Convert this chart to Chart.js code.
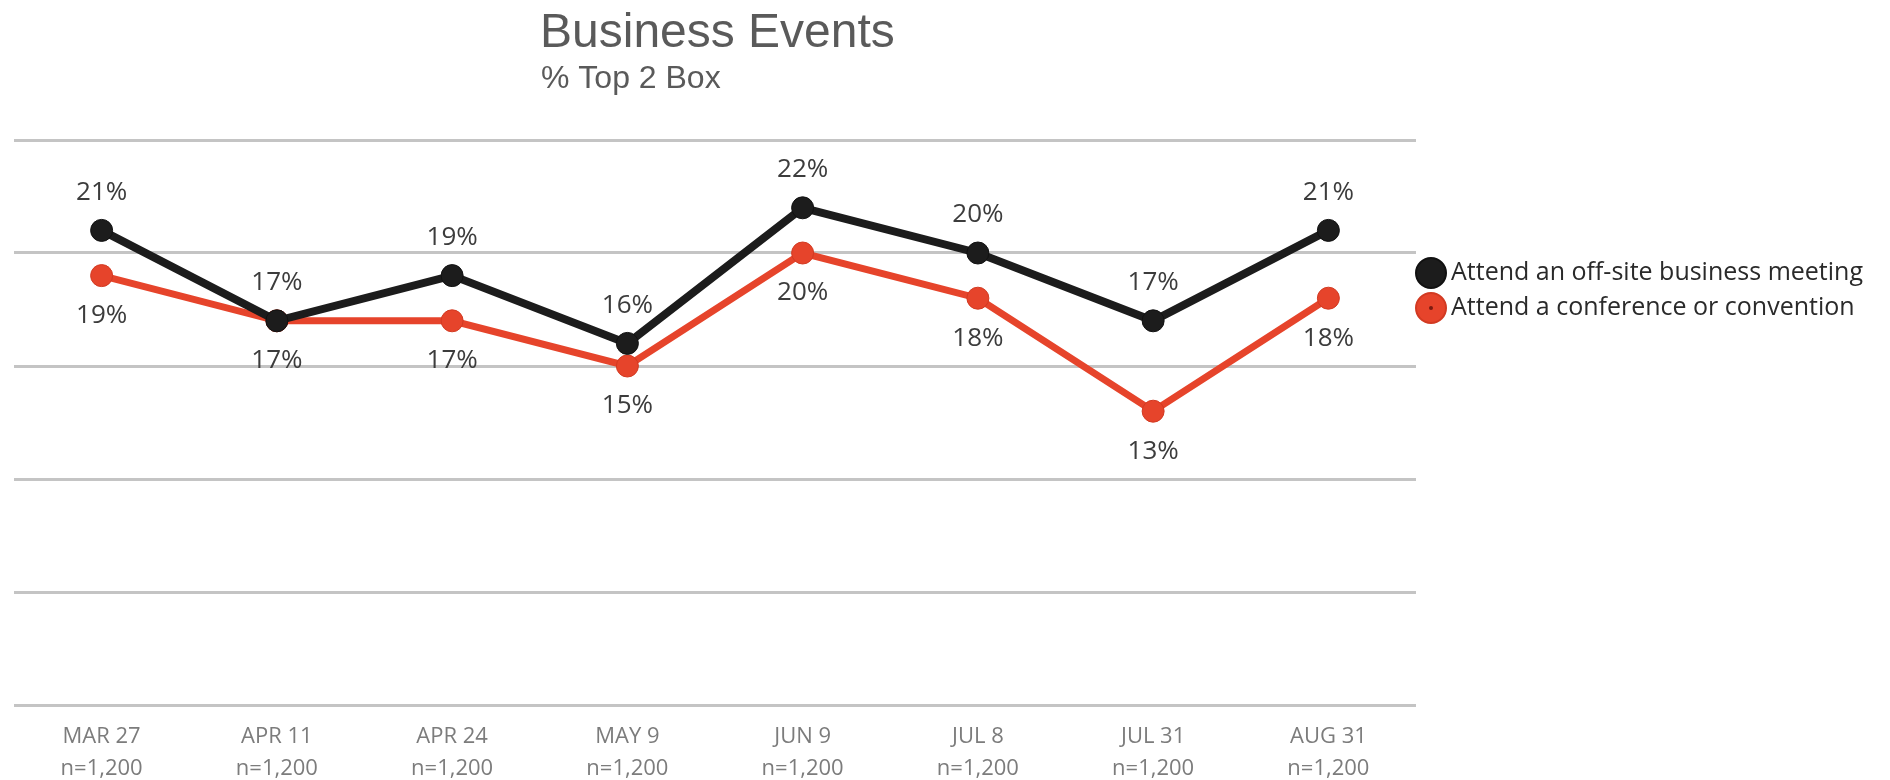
<!DOCTYPE html>
<html>
<head>
<meta charset="utf-8">
<title>Business Events</title>
<script src="https://cdn.jsdelivr.net/npm/chart.js@4.4.1/dist/chart.umd.min.js"></script>
<style>
  html, body { margin: 0; padding: 0; background: #fff; }
  #wrap { width: 1890px; height: 780px; }
</style>
</head>
<body>
<div id="wrap"><canvas id="eventsChart" width="1890" height="780"></canvas></div>
<script>
// survey waves
var waves = ['MAR 27', 'APR 11', 'APR 24', 'MAY 9', 'JUN 9', 'JUL 8', 'JUL 31', 'AUG 31'];
var sampleSizes = ['n=1,200', 'n=1,200', 'n=1,200', 'n=1,200', 'n=1,200', 'n=1,200', 'n=1,200', 'n=1,200'];

// % top 2 box
var offsiteMeeting = [21, 17, 19, 16, 22, 20, 17, 21];
var conference = [19, 17, 17, 15, 20, 18, 13, 18];

var seriesNames = ['Attend an off-site business meeting', 'Attend a conference or convention'];
var yTicks = [0, 5, 10, 15, 20, 25];

var BLACK = '#1c1c1c';
var RED = '#e6442b';

// heading drawn left-aligned over the plot
var headingPlugin = {
    id: 'heading',
    afterDraw: function (chart) {
        var ctx = chart.ctx;
        ctx.save();
        ctx.fillStyle = '#5a5a5a';
        ctx.textAlign = 'left';
        ctx.textBaseline = 'alphabetic';
        ctx.font = '48px "Liberation Sans", Arial, sans-serif';
        ctx.fillText('Business Events', 540, 47);
        ctx.font = '32px "Liberation Sans", Arial, sans-serif';
        ctx.fillText('% Top 2 Box', 541, 88);
        ctx.restore();
    }
};

// percent labels: first series above its points, second series below
var valueLabelPlugin = {
    id: 'valueLabels',
    afterDatasetsDraw: function (chart) {
        var ctx = chart.ctx;
        ctx.save();
        ctx.font = '26px "Open Sans", sans-serif';
        ctx.fillStyle = '#3c3c3c';
        ctx.textAlign = 'center';
        ctx.textBaseline = 'middle';
        chart.data.datasets.forEach(function (ds, i) {
            var meta = chart.getDatasetMeta(i);
            meta.data.forEach(function (pt, j) {
                var dy = i === 0 ? -38 : 40;
                ctx.fillText(ds.data[j] + '%', pt.x, pt.y + dy);
            });
        });
        ctx.restore();
    }
};

// legend to the right of the plot area
var sideLegendPlugin = {
    id: 'sideLegend',
    afterDraw: function (chart) {
        var ctx = chart.ctx;
        var x = chart.chartArea.right + 15;
        var rows = [273, 308];
        ctx.save();
        chart.data.datasets.forEach(function (ds, i) {
            var y = rows[i];
            ctx.beginPath();
            ctx.arc(x, y, 15, 0, Math.PI * 2);
            ctx.fillStyle = ds.pointBackgroundColor;
            ctx.fill();
            ctx.lineWidth = 2;
            ctx.strokeStyle = ds.pointBorderColor;
            ctx.stroke();
            if (i === 1) {
                ctx.beginPath();
                ctx.arc(x, y, 2, 0, Math.PI * 2);
                ctx.fillStyle = '#7a1a10';
                ctx.fill();
            }
            ctx.font = '25px "Open Sans", sans-serif';
            ctx.fillStyle = '#2a2a2a';
            ctx.textAlign = 'left';
            ctx.textBaseline = 'middle';
            ctx.fillText(ds.label, x + 20, y);
        });
        ctx.restore();
    }
};

new Chart(document.getElementById('eventsChart').getContext('2d'), {
    type: 'line',
    data: {
        labels: waves.map(function (w, i) { return [w, sampleSizes[i]]; }),
        datasets: [{
            label: seriesNames[0],
            data: offsiteMeeting,
            borderColor: BLACK,
            borderWidth: 8,
            pointRadius: 11,
            pointBackgroundColor: BLACK,
            pointBorderColor: '#111',
            pointBorderWidth: 1,
            tension: 0,
            clip: false
        }, {
            label: seriesNames[1],
            data: conference,
            borderColor: RED,
            borderWidth: 7,
            pointRadius: 11,
            pointBackgroundColor: RED,
            pointBorderColor: '#d23a22',
            pointBorderWidth: 1,
            tension: 0,
            clip: false
        }]
    },
    options: {
        responsive: false,
        animation: false,
        layout: {
            padding: { left: 14, right: 474, top: 140, bottom: 0 }
        },
        plugins: {
            legend: { display: false },
            title: { display: false },
            tooltip: { enabled: false }
        },
        scales: {
            x: {
                offset: true,
                grid: { display: false, drawTicks: false },
                border: { display: false },
                ticks: {
                    color: '#7c7c7c',
                    font: { family: 'Open Sans', size: 22, lineHeight: 1.45 },
                    padding: 16,
                    maxRotation: 0,
                    autoSkip: false
                },
                afterFit: function (scale) { scale.height = 75; }
            },
            y: {
                min: yTicks[0],
                max: yTicks[yTicks.length - 1],
                afterBuildTicks: function (scale) {
                    scale.ticks = yTicks.map(function (v) { return { value: v }; });
                },
                grid: { color: '#c4c4c4', lineWidth: 3, drawTicks: false },
                border: { display: false },
                ticks: { display: false }
            }
        }
    },
    plugins: [headingPlugin, valueLabelPlugin, sideLegendPlugin]
});
</script>
</body>
</html>
